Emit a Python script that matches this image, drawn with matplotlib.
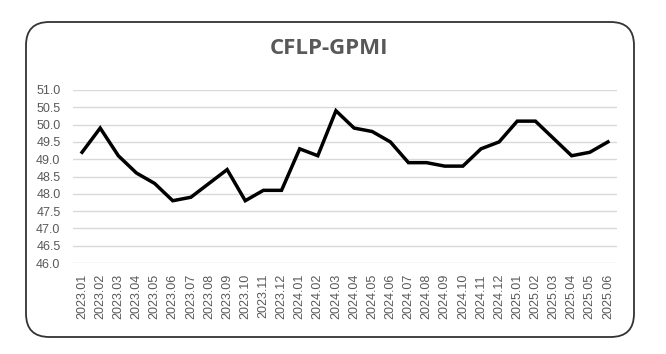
import matplotlib
matplotlib.use("Agg")
import matplotlib.pyplot as plt
from matplotlib.patches import FancyBboxPatch

months = ["2023.01","2023.02","2023.03","2023.04","2023.05","2023.06","2023.07","2023.08",
          "2023.09","2023.10","2023.11","2023.12","2024.01","2024.02","2024.03","2024.04",
          "2024.05","2024.06","2024.07","2024.08","2024.09","2024.10","2024.11","2024.12",
          "2025.01","2025.02","2025.03","2025.04","2025.05","2025.06"]
gpmi = [49.2, 49.9, 49.1, 48.6, 48.3, 47.8, 47.9, 48.3, 48.7, 47.8, 48.1, 48.1,
        49.3, 49.1, 50.4, 49.9, 49.8, 49.5, 48.9, 48.9, 48.8, 48.8, 49.3, 49.5,
        50.1, 50.1, 49.6, 49.1, 49.2, 49.5]
yticks = [46.0, 46.5, 47.0, 47.5, 48.0, 48.5, 49.0, 49.5, 50.0, 50.5, 51.0]

plt.rcParams['font.family'] = ['Liberation Sans', 'DejaVu Sans']
W, H = 666, 354
fig = plt.figure(figsize=(W/100, H/100), dpi=100)
fig.patch.set_facecolor('white')

# rounded border
box = FancyBboxPatch((26/W, 1-337/H), (634-26)/W, (337-22)/H,
                     boxstyle="round,pad=0,rounding_size=0.035",
                     transform=fig.transFigure, fill=False,
                     edgecolor='#333333', linewidth=1.3, mutation_aspect=W/H)
fig.patches.append(box)

ax = fig.add_axes([73/W, 1-263/H, (617-73)/W, (263-90)/H])
x = list(range(len(months)))
ax.plot(x, gpmi, color='black', linewidth=2.5, solid_joinstyle='miter')
ax.set_xlim(-0.5, len(months)-0.5)
ax.set_ylim(46.0, 51.0)
ax.set_yticks(yticks)
ax.set_yticklabels([f"{v:.1f}" for v in yticks])
ax.set_xticks(x)
ax.set_xticklabels(months, rotation=90)
ax.grid(axis='y', color='#d9d9d9', linewidth=1.0)
ax.set_axisbelow(True)
for s in ax.spines.values():
    s.set_visible(False)
ax.tick_params(axis='both', length=0, labelsize=9, colors='#595959')
ax.tick_params(axis='y', pad=9)
ax.tick_params(axis='x', pad=8)

fig.text(329/W, 1-49/H, "CFLP-GPMI", ha='center', va='center',
         fontsize=16, fontweight='bold', color='#595959',
         family=['Open Sans', 'DejaVu Sans'])

fig.savefig("out.png", dpi=100, facecolor='white')
